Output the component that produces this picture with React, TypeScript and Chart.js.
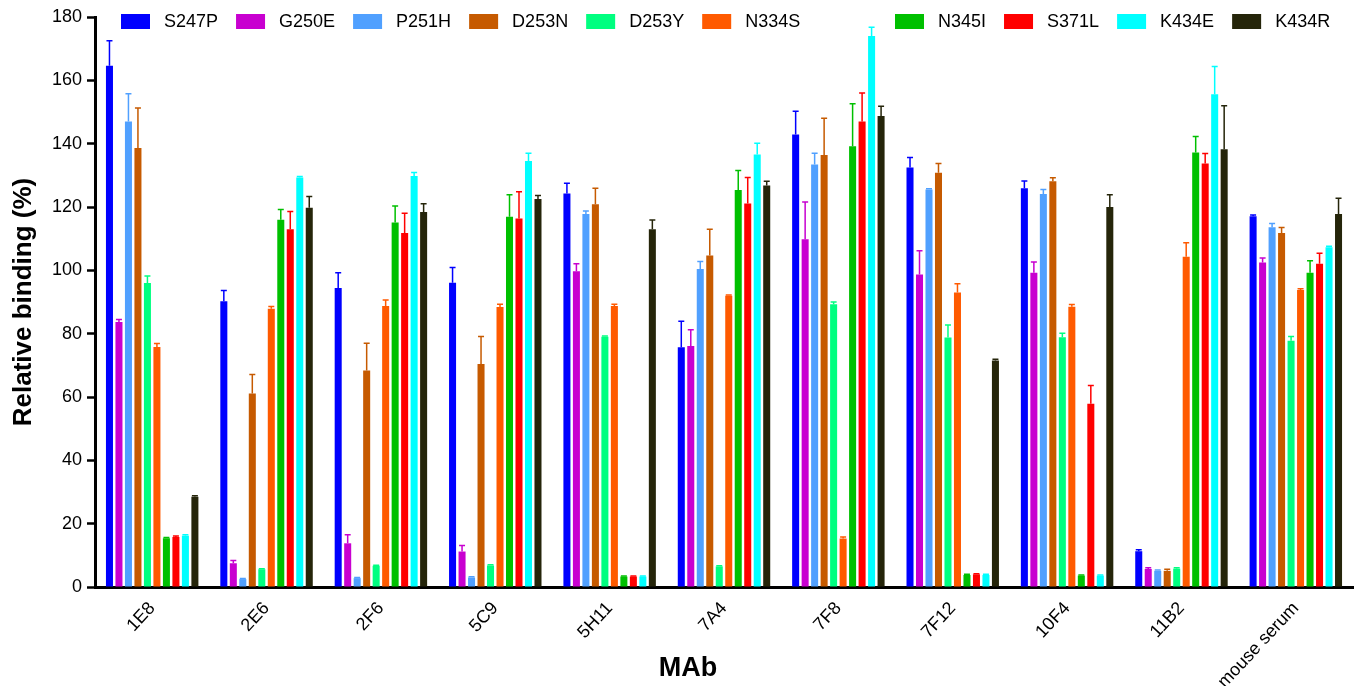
import React, { useEffect, useRef } from "react";
import { Chart, registerables } from "chart.js";

Chart.register(...registerables);

const FONT = "'Liberation Sans', Arial, Helvetica, sans-serif";

const categories = ["1E8", "2E6", "2F6", "5C9", "5H11", "7A4", "7F8", "7F12", "10F4", "11B2", "mouse serum"];

const yMin = 0;
const yMax = 180;
const yStep = 20;

const xTitle = "MAb";
const yTitle = "Relative binding (%)";

const seriesNames = ["S247P", "G250E", "P251H", "D253N", "D253Y", "N334S", "N345I", "S371L", "K434E", "K434R"];
const seriesColors = ["#0000ff", "#c800d0", "#50a0ff", "#c65a00", "#00ff80", "#ff5a00", "#00c000", "#ff0000", "#00ffff", "#25250a"];

const S247P = [164.6, 90.2, 94.4, 96.1, 124.3, 75.7, 142.9, 132.5, 125.9, 11.3, 117.1];
const G250E = [83.7, 7.5, 13.8, 11.2, 99.7, 76.1, 109.8, 98.7, 99.2, 5.7, 102.5];
const P251H = [147, 2.5, 2.8, 3, 117.8, 100.4, 133.4, 125.5, 124.1, 5.1, 113.6];
const D253N = [138.6, 61.1, 68.4, 70.4, 120.9, 104.7, 136.4, 130.8, 128.1, 5.1, 111.8];
const D253Y = [96, 5.6, 6.7, 6.8, 79, 6.5, 89.3, 78.8, 78.9, 5.8, 77.8];
const N334S = [75.8, 87.9, 88.7, 88.4, 88.7, 92, 15.3, 93, 88.5, 104.3, 93.8];
const N345I = [15.4, 116, 115.1, 116.9, 3.3, 125.4, 139.2, 3.8, 3.6, 137.2, 99.2];
const S371L = [15.8, 113, 111.8, 116.4, 3.3, 121.1, 147, 4, 57.9, 133.7, 102.1];
const K434E = [16.2, 129.3, 129.8, 134.5, 3.3, 136.6, 174, 3.8, 3.6, 155.6, 107.3];
const K434R = [28.5, 119.8, 118.4, 122.5, 113, 126.8, 148.7, 71.5, 120, 138.2, 117.8];

const S247P_err = [7.9, 3.4, 4.8, 4.8, 3.2, 8.2, 7.3, 3.1, 2.3, 0.5, 0.4];
const G250E_err = [0.8, 0.9, 2.7, 1.9, 2.4, 5.1, 11.8, 7.5, 3.4, 0.4, 1.4];
const P251H_err = [8.8, 0.2, 0.2, 0.2, 0.9, 2.4, 3.6, 0.3, 1.4, 0.3, 1.2];
const D253N_err = [12.7, 6, 8.6, 8.7, 5, 8.3, 11.6, 2.9, 1.1, 0.5, 1.7];
const D253Y_err = [2.2, 0.2, 0.2, 0.2, 0.3, 0.2, 0.7, 3.9, 1.2, 0.3, 1.3];
const N334S_err = [1.1, 0.7, 1.9, 0.9, 0.6, 0.2, 0.5, 2.8, 0.7, 4.4, 0.4];
const N345I_err = [0.2, 3.2, 5.2, 7, 0.2, 6.1, 13.4, 0.2, 0.2, 5.1, 3.8];
const S371L_err = [0.3, 5.6, 6.2, 8.4, 0.2, 8.2, 9, 0.2, 5.7, 3.2, 3.3];
const K434E_err = [0.3, 0.3, 1.1, 2.5, 0.2, 3.5, 2.8, 0.2, 0.2, 8.8, 0.3];
const K434R_err = [0.3, 3.5, 2.6, 1.1, 2.9, 1.3, 3.1, 0.4, 3.9, 13.8, 5];

const seriesValues = [S247P, G250E, P251H, D253N, D253Y, N334S, N345I, S371L, K434E, K434R];
const seriesErrors = [S247P_err, G250E_err, P251H_err, D253N_err, D253Y_err, N334S_err, N345I_err, S371L_err, K434E_err, K434R_err];

const legendBreakIndex = 6;

const errorBarPlugin = {
  id: "errorBars",
  afterDatasetsDraw(chart: any) {
    const ctx = chart.ctx;
    const yScale = chart.scales.y;
    chart.data.datasets.forEach((ds: any, i: number) => {
      const meta = chart.getDatasetMeta(i);
      const errs = seriesErrors[i];
      meta.data.forEach((el: any, j: number) => {
        const v = ds.data[j];
        const e = errs[j];
        if (e == null) return;
        const top = yScale.getPixelForValue(v + e);
        ctx.save();
        ctx.strokeStyle = ds.backgroundColor;
        ctx.lineWidth = 1.5;
        ctx.beginPath();
        ctx.moveTo(el.x, el.y);
        ctx.lineTo(el.x, top);
        ctx.moveTo(el.x - 3, top);
        ctx.lineTo(el.x + 3, top);
        ctx.stroke();
        ctx.restore();
      });
    });
  },
};

const legendPlugin = {
  id: "customLegend",
  afterDraw(chart: any) {
    const ctx = chart.ctx;
    const { left, right, top } = chart.chartArea;
    ctx.save();
    ctx.font = `18px ${FONT}`;
    ctx.textBaseline = "middle";
    ctx.textAlign = "left";
    let x = left + 26;
    chart.data.datasets.forEach((ds: any, i: number) => {
      if (i === legendBreakIndex) x = left + 800;
      ctx.fillStyle = ds.backgroundColor;
      ctx.fillRect(x, top - 3, 29, 15);
      ctx.fillStyle = "#000";
      ctx.fillText(ds.label, x + 43, top + 5);
      x += 43 + ctx.measureText(ds.label).width + 18;
    });
    // x-axis title (slightly left of the plot centre, as in the original)
    ctx.font = `bold 27px ${FONT}`;
    ctx.textAlign = "center";
    ctx.textBaseline = "middle";
    ctx.fillStyle = "#000";
    ctx.fillText(xTitle, (left + right) / 2 - 36, chart.height - 17);
    ctx.restore();
  },
};

export default function App() {
  const canvasRef = useRef<HTMLCanvasElement | null>(null);

  useEffect(() => {
    document.body.style.margin = "0";
    const canvas = canvasRef.current;
    if (!canvas) return;
    const chart = new Chart(canvas, {
      type: "bar",
      data: {
        labels: categories,
        datasets: seriesNames.map((name, i) => ({
          label: name,
          data: seriesValues[i],
          backgroundColor: seriesColors[i],
          borderWidth: 0,
          categoryPercentage: 0.83,
          barPercentage: 0.74,
        })),
      },
      options: {
        animation: false,
        responsive: true,
        maintainAspectRatio: false,
        layout: { padding: { top: 17, right: 2, left: 0, bottom: 0 } },
        plugins: {
          legend: { display: false },
          tooltip: { enabled: false },
        },
        scales: {
          x: {
            grid: { display: false, drawTicks: false },
            border: { display: true, color: "#000", width: 3 },
            ticks: {
              color: "#000",
              font: { family: FONT, size: 18 },
              minRotation: 47,
              maxRotation: 47,
              padding: 11,
              autoSkip: false,
            },
            title: { display: false },
            afterFit: (scale: any) => {
              scale.height = 99;
            },
          },
          y: {
            min: yMin,
            max: yMax,
            ticks: {
              stepSize: yStep,
              color: "#000",
              font: { family: FONT, size: 18 },
              padding: 5,
            },
            grid: {
              drawOnChartArea: false,
              drawTicks: true,
              tickLength: 8,
              tickWidth: 2.5,
              tickColor: "#000",
            },
            border: { display: true, color: "#000", width: 3 },
            title: {
              display: true,
              text: yTitle,
              color: "#000",
              font: { family: FONT, size: 26, weight: "bold" },
              padding: { top: 8, bottom: 0 },
            },
            afterFit: (scale: any) => {
              scale.width = 95;
            },
          },
        },
      },
      plugins: [errorBarPlugin, legendPlugin],
    });
    return () => chart.destroy();
  }, []);

  return (
    <div style={{ width: 1355, height: 686, position: "relative", background: "#fff" }}>
      <canvas ref={canvasRef} />
    </div>
  );
}
